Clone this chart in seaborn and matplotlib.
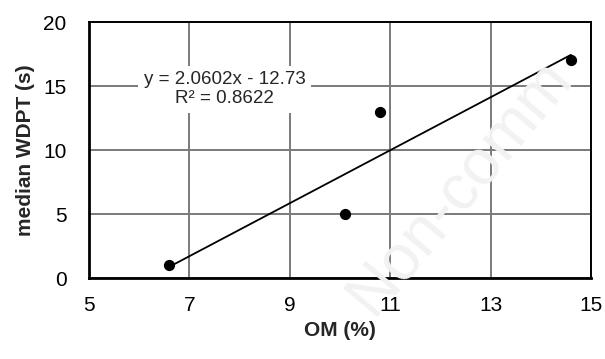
import numpy as np
import pandas as pd
import matplotlib
matplotlib.use('Agg')
import matplotlib.pyplot as plt
import seaborn as sns

# data
om = [6.6, 10.1, 10.8, 14.6]
wdpt = [1, 5, 13, 17]
x_ticks = [5, 7, 9, 11, 13, 15]
y_ticks = [0, 5, 10, 15, 20]
equation = 'y = 2.0602x - 12.73'
r_squared = 'R² = 0.8622'

df = pd.DataFrame({'OM (%)': om, 'median WDPT (s)': wdpt})

sns.set_style('white')
plt.rcParams['font.family'] = ['Liberation Sans', 'DejaVu Sans']

fig = plt.figure(figsize=(6.05, 3.59), dpi=100)
ax = fig.add_axes([0.147, 0.2256, 0.83, 0.7131])

# faint watermark
fig.text(0.76, 0.48, 'Non-comm', fontsize=46, color='#f2f2f2',
         rotation=50, ha='center', va='center', zorder=0)
ax.patch.set_alpha(0)

sns.regplot(data=df, x='OM (%)', y='median WDPT (s)', ci=None, truncate=True,
            scatter_kws={'s': 50, 'color': 'black', 'alpha': 1, 'zorder': 4},
            line_kws={'color': 'black', 'lw': 1.3, 'zorder': 3}, ax=ax)

ax.set_xlim(5, 15)
ax.set_ylim(0, 20)
ax.set_xticks(x_ticks)
ax.set_yticks(y_ticks)
ax.grid(True, color='#7a7a7a', lw=1.4)
ax.set_axisbelow(True)

for side in ['top', 'right']:
    ax.spines[side].set_linewidth(1.4)
    ax.spines[side].set_color('black')
for side in ['left', 'bottom']:
    ax.spines[side].set_linewidth(2.0)
    ax.spines[side].set_color('black')

ax.tick_params(axis='both', direction='out', length=7, width=1.5,
               labelsize=15, colors='black')
ax.tick_params(axis='x', pad=6)
ax.tick_params(axis='y', pad=9)

ax.set_xlabel('OM (%)', fontsize=15, fontweight='bold', labelpad=4)
ax.set_ylabel('median WDPT (s)', fontsize=15, fontweight='bold', labelpad=6)

ax.text(7.7, 14.75, equation + '\n' + r_squared, fontsize=13.5, ha='center',
        va='center', linespacing=1.15, zorder=5,
        bbox=dict(facecolor='white', edgecolor='none', pad=4))

fig.savefig('out.png', dpi=100)
